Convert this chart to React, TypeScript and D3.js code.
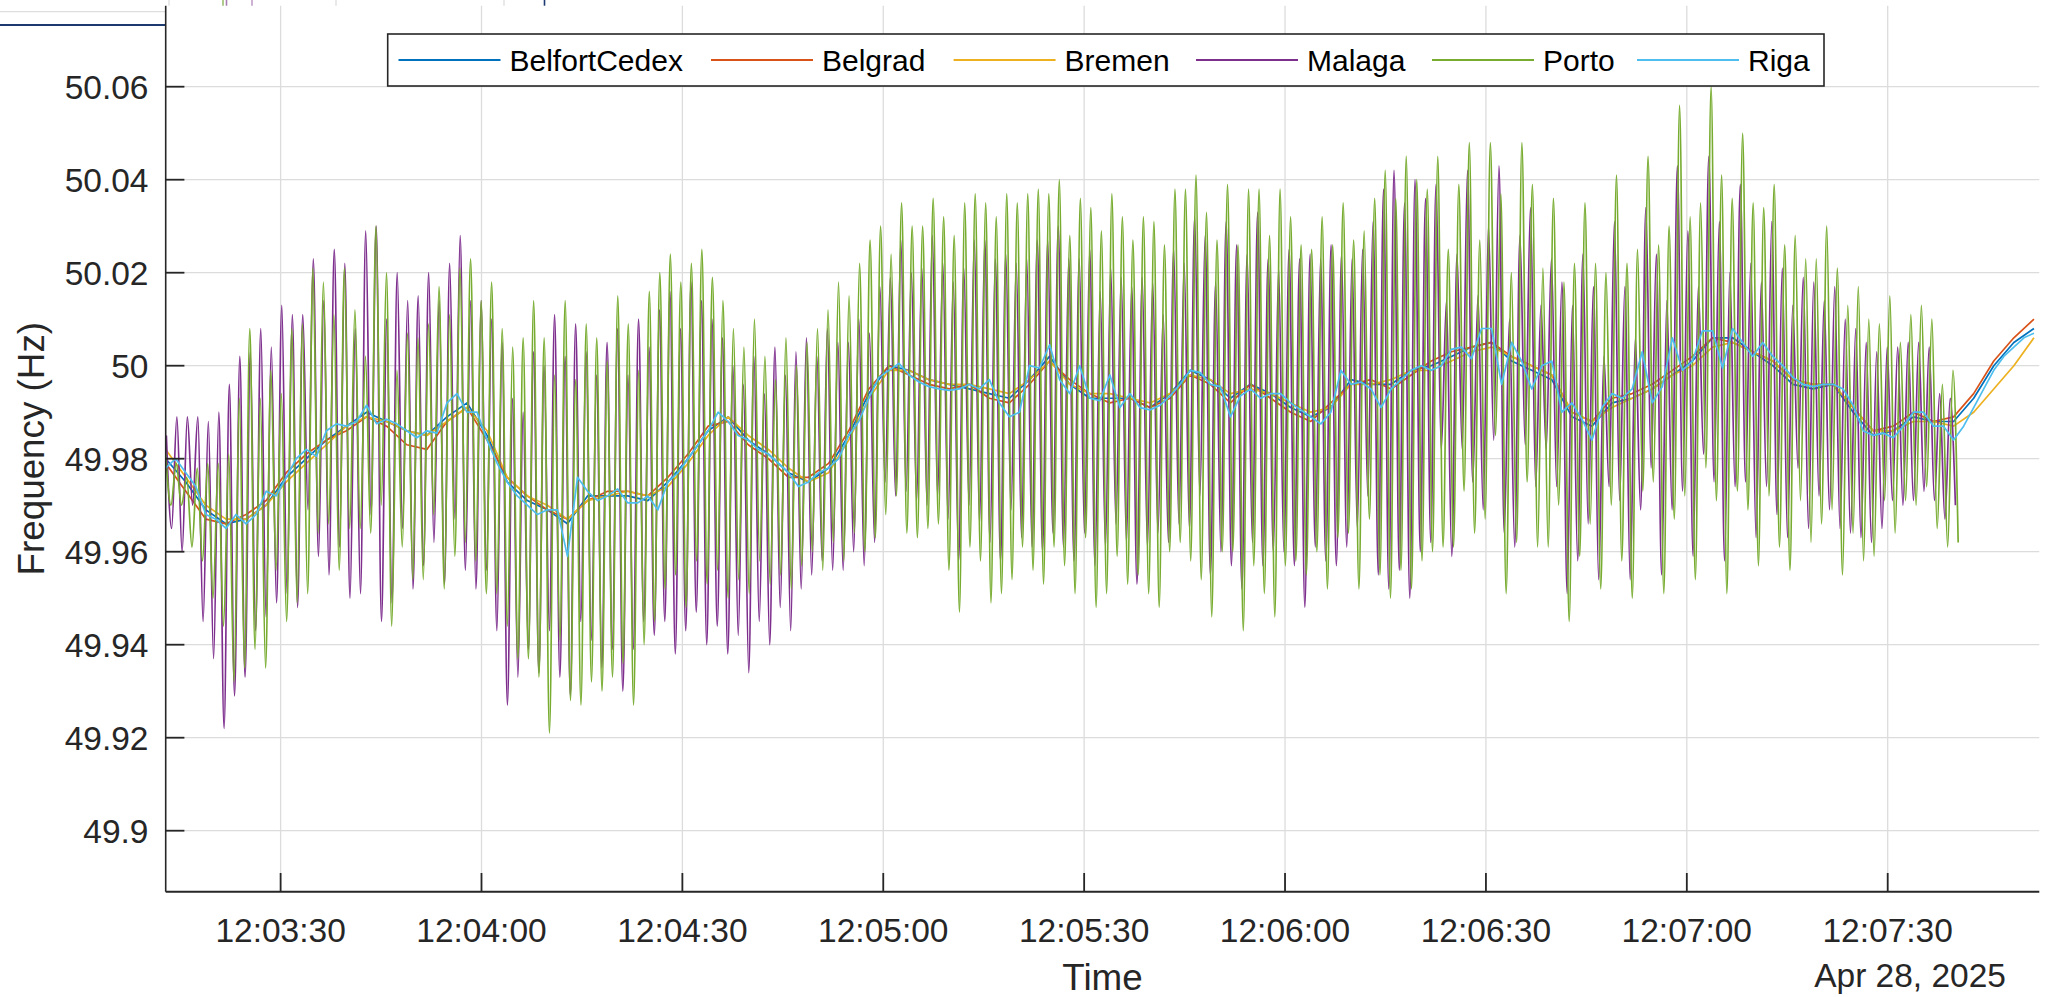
import React from 'react';
import * as d3 from 'd3';

// ---------------- DATA ----------------
const SERIES_NAMES = ['BelfortCedex', 'Belgrad', 'Bremen', 'Malaga', 'Porto', 'Riga'];
const SERIES_COLORS = ['#0072BD', '#D95319', '#EDB120', '#7E2F8E', '#77AC30', '#4DBEEE'];
const Y_TICKS = [49.9, 49.92, 49.94, 49.96, 49.98, 50, 50.02, 50.04, 50.06];
const X_TICK_LABELS = ['12:03:30', '12:04:00', '12:04:30', '12:05:00', '12:05:30', '12:06:00', '12:06:30', '12:07:00', '12:07:30'];
const DATE_LABEL = 'Apr 28, 2025';
const X_LABEL = 'Time';
const Y_LABEL = 'Frequency (Hz)';
const NOMINAL_HZ = 50;

// start of the visible window (12:03:12.84) and its length in seconds
const WINDOW_START = [2025, 3, 28, 12, 3, 12, 840];
const WINDOW_LENGTH_S = 279.8;

// slow series: deviation from 50 Hz in mHz
const SLOW_STEP_S = 3;
const BELFORT_MHZ = [
  -20, -25, -31, -34, -33, -30, -24, -20, -16, -13,
  -10, -12, -14, -15, -11, -8, -15, -25, -29, -31,
  -34, -28, -28, -28, -29, -25, -20, -14, -11, -16,
  -19, -23, -25, -22, -15, -6, 0, -1, -3, -4,
  -5, -6, -7, -3, 2, -4, -7, -7, -7, -9,
  -6, -1, -3, -7, -4, -6, -9, -11, -9, -3,
  -4, -4, -1, 0, 2, 4, 5, 1, -1, -3,
  -11, -13, -8, -7, -5, -2, 1, 6, 6, 3,
  0, -4, -5, -4, -10, -15, -14, -11, -12, -12,
  -7, 0, 5, 8,
];
const BELGRAD_MHZ = [
  -21, -27, -33, -34, -32, -29, -23, -19, -16, -14,
  -11, -13, -17, -18, -12, -9, -16, -24, -28, -31,
  -33, -29, -27, -27, -28, -24, -19, -13, -12, -17,
  -20, -24, -24, -21, -14, -5, 0, -2, -4, -5,
  -4, -7, -8, -4, 1, -3, -6, -8, -7, -9,
  -7, -2, -4, -8, -4, -7, -10, -12, -8, -4,
  -3, -5, -2, 1, 3, 4, 5, 2, 0, -2,
  -10, -12, -7, -6, -4, -1, 2, 6, 5, 3,
  1, -3, -4, -4, -9, -14, -13, -10, -12, -11,
  -6, 1, 6, 10,
];
const BREMEN_MHZ = [
  -18, -24, -30, -33, -33, -30, -25, -21, -17, -13,
  -11, -12, -14, -15, -12, -9, -14, -24, -28, -30,
  -33, -29, -28, -27, -28, -26, -21, -15, -11, -15,
  -18, -22, -25, -23, -16, -7, -1, -1, -3, -4,
  -4, -5, -6, -3, 1, -4, -6, -6, -7, -8,
  -6, -2, -3, -6, -5, -6, -8, -10, -9, -4,
  -4, -3, -1, -1, 1, 3, 4, 2, 0, -2,
  -10, -12, -9, -7, -5, -2, 0, 4, 5, 3,
  1, -3, -4, -4, -9, -14, -14, -12, -12, -13,
  -10, -5, 0, 6,
];
// Riga is read at a finer step (1.5 s) because it is visibly noisier
const RIGA_STEP_S = 1.5;
const RIGA_MHZ = [
  -22, -20, -23, -26, -32, -33, -35, -32, -34, -32,
  -27, -28, -24, -20, -18, -19.5, -14, -12.5, -13, -12,
  -8.5, -12.5, -11.5, -12.5, -14, -15.5, -14, -14.5, -8, -6,
  -10, -10, -16, -21, -25, -28, -30, -32, -31, -31,
  -41, -24, -27, -29, -28, -26.5, -29.5, -29.5, -28, -31,
  -25, -23, -20, -17, -14, -10, -12, -15, -16, -18,
  -19, -21, -23, -26, -25, -23, -22, -20, -15, -12,
  -7,
  -2.5, -1, 0.5, -2, -3.5, -4.5, -5, -5.3, -5, -4,
  -5, -3, -8, -11, -10, 0, -0.5, 4.5, -3, -6,
  0, -7, -7.5, -2, -9, -6, -9, -9.5, -8.5, -6.5,
  -4, -1, -1.5, -4, -4.5, -11, -6.5, -5, -7, -6,
  -6, -8, -9.5, -11, -12.5, -10, -1, -4, -3.5, -5,
  -9,
  -5, -3, -1, 0, -1,
  0, 3.5, 4, 1.5, 8, 8, -4, 5, 1, -5,
  0, 1, -10, -8, -11.5, -16, -9, -6, -7, -5,
  3, -8, -4.5, 6, -1, 1, 7.5, 7.5, -0.5, 8,
  5, 2, 5, 2, 0, -2.5, -4, -4.5, -4, -4,
  -5, -8.5, -14, -15, -14.5, -15.5, -13, -10, -10, -13,
  -13, -16, -13, -9, -5, -1, 2, 4, 6, 7,
];

// oscillating series: successive maxima / minima (mHz), alternating peak then trough
const PORTO_T0_S = 0;
const PORTO_HALF_PERIOD_S = 0.785;
const PORTO_PEAKS_MHZ = [
  -19, -21, -24, -22, -21, -21, -19, -7, 8, -7, -1, -6, 8, 9, 21, 18, 11, 21, 12, 2, 30, 20, -1, 7, 6, 9, 17, 11, 21, 23, 14, 18, 8, 4, 6, 14, 6, -2, 14, -3, 9, 6, 1, 15, 9, -1, 16,
  20, 24, 18, 22, 25, 19, 14, 8, 4, 10, 2, -3, 6, 0, 5, 8, 12, 18, 15, 22, 27,
  30, 24, 35, 30, 30, 36, 32, 28, 35, 37, 35, 32, 37, 35, 37, 38, 37, 40, 28, 36, 34, 29, 37, 32, 27, 32, 31, 26, 38, 38, 41, 33, 27, 39, 26, 38, 38, 28, 38, 32, 26, 25, 32, 26, 35, 27, 29, 36,
  42, 36, 45, 40, 38,
  45, 25, 39, 48, 27, 48, 37, 20, 48, 39, 21, 36, 18, 22, 35, 22, 20, 41, 22, 25, 45, 26, 30, 56, 32, 35, 60, 41, 36, 50, 35, 34, 39, 26, 28, 23, 23, 30, 21, 13, 17, 10, 9, 15, 5, 11, 13, 10, -4, -1,
];
const PORTO_TROUGHS_MHZ = [
  -30, -30, -39, -42, -50, -56, -68, -65, -61, -65, -44, -55, -51, -49, -36, -34, -44, -35, -35, -36, -30, -56, -39, -46, -46, -32, -48, -41, -38, -42, -49, -49, -56, -63, -63, -67, -79, -59, -72, -73, -68, -70, -67, -64, -73, -60, -55,
  -48, -45, -52, -42, -47, -44, -50, -46, -49, -42, -47, -45, -48, -43, -40, -44, -38, -42, -36, -40, -37,
  -32, -28, -36, -37, -35, -34, -44, -53, -39, -42, -51, -49, -46, -39, -44, -47, -39, -43, -49, -37, -52, -49, -41, -47, -45, -49, -52, -40, -38, -42, -46, -54, -40, -40, -57, -43, -49, -54, -43, -42, -45, -40, -48, -37, -36, -48, -33,
  -45, -50, -44, -48, -42, -40,
  -39, -39, -27, -36, -33, -15, -49, -38, -25, -39, -39, -30, -55, -41, -34, -48, -30, -42, -50, -27, -25, -49, -33, -28, -46, -22, -29, -49, -27, -31, -43, -28, -39, -44, -29, -38, -34, -31, -45, -36, -42, -41, -29, -36, -29, -30, -26, -35, -39, -38,
];

const MALAGA_T0_S = 0.1;
const MALAGA_HALF_PERIOD_S = 0.7835;
const MALAGA_PEAKS_MHZ = [
  -15, -11, -11, -11, -12, -10, -4, 2, 3, 8, 4, 13, 11, 11, 23, 14, 25, 22, 8, 29, 30, 10, 20, 14, 15, 20, 14, 22, 28, 14, 14, 10, 5, -7, -10, 3, 0, 11, 2, 9, 3, -2, 5, 8, -2, 10, 4,
  12, 16, 8, 18, 14, 10, 6, 0, -4, 2, -6, 4, -2, 3, 6, 2, 8, 5, 5, 10, 7,
  17, 19, 27, 20, 21, 28, 22, 18, 21, 27, 27, 23, 24, 22, 23, 27, 27, 30, 23, 23, 25, 16, 21, 19, 17, 19, 18, 11, 25, 22, 32, 28, 18, 31, 26, 24, 33, 23, 21, 25, 23, 24, 23, 26, 24, 23, 25, 31,
  38, 42, 35, 40, 36,
  39, 14, 24, 42, 15, 30, 43, 10, 28, 34, 13, 23, 18, 13, 24, 17, 2, 31, 17, 6, 34, 24, 14, 43, 29, 17, 45, 31, 20, 39, 22, 18, 31, 21, 13, 19, 18, 14, 17, 10, 8, 5, 3, 4, 4, 5, 5, 4, -6, -7,
];
const MALAGA_TROUGHS_MHZ = [
  -35, -40, -30, -55, -63, -78, -71, -67, -57, -54, -51, -49, -52, -31, -41, -45, -39, -50, -49, -32, -55, -51, -35, -48, -43, -38, -47, -33, -44, -48, -44, -57, -73, -67, -61, -66, -57, -67, -71, -55, -59, -65, -61, -70, -61, -55,
  -58, -55, -62, -57, -53, -60, -56, -62, -58, -66, -55, -60, -52, -57, -48, -45, -42, -44, -44, -40, -43, -38,
  -25, -28, -27, -29, -30, -28, -33, -42, -30, -34, -38, -42, -31, -37, -39, -40, -36, -39, -42, -36, -43, -39, -34, -38, -47, -39, -36, -38, -34, -35, -28, -45, -40, -43, -48, -38, -43, -40, -40, -43, -52, -39, -42, -43, -39, -35, -28,
  -45, -48, -44, -50, -40, -38,
  -18, -41, -18, -25, -31, -16, -36, -39, -17, -26, -18, -26, -49, -42, -34, -46, -26, -29, -46, -31, -22, -45, -31, -27, -41, -19, -25, -42, -26, -25, -37, -26, -32, -37, -22, -35, -28, -31, -35, -36, -37, -38, -35, -29, -30, -29, -27, -29, -33, -30,
];

// ---------------- LAYOUT ----------------
const W = 2052;
const H = 997;
const AX = { left: 165.7, right: 2039.3, top: 5.7, bottom: 891.7 };
const FONT = '"Liberation Sans", Arial, Helvetica, sans-serif';
const TICK_FS = 33.5;
const LABEL_FS = 36.8;
const LEGEND_FS = 30;
const AXIS_COLOR = '#262626';
const GRID_COLOR = '#dcdcdc';
const TICK_LEN = 18.7;
const LEGEND_BOX = { x: 387.7, y: 34, w: 1436.3, h: 52 };
const LEGEND_ITEM_X = [398.5, 711, 953.6, 1196, 1432, 1637];
const LEGEND_LINE_LEN = 102;

type Pt = { t: number; v: number };

function slowSeries(vals: number[], step: number): Pt[] {
  return vals.map((v, i) => ({ t: i * step, v }));
}
function extremaSeries(peaks: number[], troughs: number[], t0: number, half: number): Pt[] {
  const out: Pt[] = [];
  for (let i = 0; i < peaks.length; i++) {
    out.push({ t: t0 + 2 * i * half, v: peaks[i] });
    if (i < troughs.length) out.push({ t: t0 + (2 * i + 1) * half, v: troughs[i] });
  }
  return out;
}

export default function App() {
  const [yy, mo, dd, hh, mi, ss, ms] = WINDOW_START;
  const start = new Date(yy, mo, dd, hh, mi, ss, ms);
  const end = new Date(start.getTime() + WINDOW_LENGTH_S * 1000);

  const x = d3.scaleTime().domain([start, end]).range([AX.left, AX.right]);
  const y = d3.scaleLinear().domain([49.9, 50.06]).range([830.7, 86.7]);
  const fmtY = d3.format('.4~g');

  const xTicks = X_TICK_LABELS.map((s) => {
    const [h, m, sec] = s.split(':').map(Number);
    return new Date(yy, mo, dd, h, m, sec);
  });
  const fmtX = d3.timeFormat('%H:%M:%S');

  const series: { name: string; color: string; pts: Pt[]; curve: d3.CurveFactory }[] = [
    { name: SERIES_NAMES[0], color: SERIES_COLORS[0], pts: slowSeries(BELFORT_MHZ, SLOW_STEP_S), curve: d3.curveLinear },
    { name: SERIES_NAMES[1], color: SERIES_COLORS[1], pts: slowSeries(BELGRAD_MHZ, SLOW_STEP_S), curve: d3.curveLinear },
    { name: SERIES_NAMES[2], color: SERIES_COLORS[2], pts: slowSeries(BREMEN_MHZ, SLOW_STEP_S), curve: d3.curveLinear },
    { name: SERIES_NAMES[3], color: SERIES_COLORS[3], pts: extremaSeries(MALAGA_PEAKS_MHZ, MALAGA_TROUGHS_MHZ, MALAGA_T0_S, MALAGA_HALF_PERIOD_S), curve: d3.curveMonotoneX },
    { name: SERIES_NAMES[4], color: SERIES_COLORS[4], pts: extremaSeries(PORTO_PEAKS_MHZ, PORTO_TROUGHS_MHZ, PORTO_T0_S, PORTO_HALF_PERIOD_S), curve: d3.curveMonotoneX },
    { name: SERIES_NAMES[5], color: SERIES_COLORS[5], pts: slowSeries(RIGA_MHZ, RIGA_STEP_S), curve: d3.curveLinear },
  ];

  const pathFor = (pts: Pt[], curve: d3.CurveFactory) =>
    d3
      .line<Pt>()
      .x((d) => x(new Date(start.getTime() + d.t * 1000)))
      .y((d) => y(NOMINAL_HZ + d.v / 1000))
      .curve(curve)(pts) || '';

  const axCx = (AX.left + AX.right) / 2;
  const axCy = (AX.top + AX.bottom) / 2;

  return (
    <svg
      width={W}
      height={H}
      viewBox={`0 0 ${W} ${H}`}
      style={{ position: 'absolute', left: 0, top: 0, background: '#ffffff', fontFamily: FONT }}
    >
      <rect x={0} y={0} width={W} height={H} fill="#ffffff" />
      <defs>
        <clipPath id="plotClip">
          <rect x={AX.left} y={AX.top} width={AX.right - AX.left} height={AX.bottom - AX.top} />
        </clipPath>
      </defs>

      {/* remnants of a figure behind (top edge) */}
      <g>
        <line x1={0} x2={AX.left} y1={11.7} y2={11.7} stroke="#dedede" strokeWidth={1.3} />
        <line x1={0} x2={AX.left} y1={25} y2={25} stroke="#1d3a70" strokeWidth={2} />
        {[169, 336, 504].map((gx) => (
          <line key={gx} x1={gx} x2={gx} y1={0} y2={AX.top} stroke="#dedede" strokeWidth={1.3} />
        ))}
        <line x1={223} x2={223} y1={0} y2={AX.top} stroke="#9bbf6e" strokeWidth={1.6} />
        <line x1={226.5} x2={226.5} y1={0} y2={AX.top} stroke="#a77cb0" strokeWidth={1.6} />
        <line x1={252} x2={252} y1={0} y2={AX.top} stroke="#b690bf" strokeWidth={1.4} />
        <line x1={544.5} x2={544.5} y1={0} y2={AX.top} stroke="#1d3a70" strokeWidth={1.6} />
      </g>

      {/* grid */}
      <g>
        {xTicks.map((d, i) => (
          <line key={'gx' + i} x1={x(d)} x2={x(d)} y1={AX.top} y2={AX.bottom} stroke={GRID_COLOR} strokeWidth={1.3} />
        ))}
        {Y_TICKS.map((v, i) => (
          <line key={'gy' + i} x1={AX.left} x2={AX.right} y1={y(v)} y2={y(v)} stroke={GRID_COLOR} strokeWidth={1.3} />
        ))}
      </g>

      {/* data */}
      <g clipPath="url(#plotClip)">
        {series.map((s) => (
          <path key={s.name} d={pathFor(s.pts, s.curve)} fill="none" stroke={s.color} strokeWidth={1.7} strokeLinejoin="round" />
        ))}
      </g>

      {/* axes */}
      <g>
        <line x1={AX.left} x2={AX.left} y1={AX.top} y2={AX.bottom} stroke={AXIS_COLOR} strokeWidth={1.6} />
        <line x1={AX.left} x2={AX.right} y1={AX.bottom} y2={AX.bottom} stroke={AXIS_COLOR} strokeWidth={2} />
        {Y_TICKS.map((v, i) => (
          <g key={'ty' + i}>
            <line x1={AX.left} x2={AX.left + TICK_LEN} y1={y(v)} y2={y(v)} stroke={AXIS_COLOR} strokeWidth={1.8} />
            <text x={148.5} y={y(v) + 12.6} textAnchor="end" fontSize={TICK_FS} fill={AXIS_COLOR}>
              {fmtY(v)}
            </text>
          </g>
        ))}
        {xTicks.map((d, i) => (
          <g key={'tx' + i}>
            <line x1={x(d)} x2={x(d)} y1={AX.bottom} y2={AX.bottom - TICK_LEN} stroke={AXIS_COLOR} strokeWidth={1.8} />
            <text x={x(d)} y={941.7} textAnchor="middle" fontSize={TICK_FS} fill={AXIS_COLOR}>
              {fmtX(d)}
            </text>
          </g>
        ))}
        <text x={2006} y={987} textAnchor="end" fontSize={TICK_FS} fill={AXIS_COLOR}>
          {DATE_LABEL}
        </text>
        <text x={axCx} y={990} textAnchor="middle" fontSize={LABEL_FS} fill={AXIS_COLOR}>
          {X_LABEL}
        </text>
        <text
          transform={`translate(43.5, ${axCy}) rotate(-90)`}
          textAnchor="middle"
          fontSize={LABEL_FS}
          fill={AXIS_COLOR}
        >
          {Y_LABEL}
        </text>
      </g>

      {/* legend */}
      <g>
        <rect
          x={LEGEND_BOX.x}
          y={LEGEND_BOX.y}
          width={LEGEND_BOX.w}
          height={LEGEND_BOX.h}
          fill="#ffffff"
          stroke={AXIS_COLOR}
          strokeWidth={1.6}
        />
        {series.map((s, i) => {
          const lx = LEGEND_ITEM_X[i];
          const cy = LEGEND_BOX.y + LEGEND_BOX.h / 2;
          return (
            <g key={'lg' + s.name}>
              <line x1={lx} x2={lx + LEGEND_LINE_LEN} y1={cy} y2={cy} stroke={s.color} strokeWidth={1.8} />
              <text x={lx + LEGEND_LINE_LEN + 9} y={cy + 11} fontSize={LEGEND_FS} fill="#000000">
                {s.name}
              </text>
            </g>
          );
        })}
      </g>
    </svg>
  );
}
